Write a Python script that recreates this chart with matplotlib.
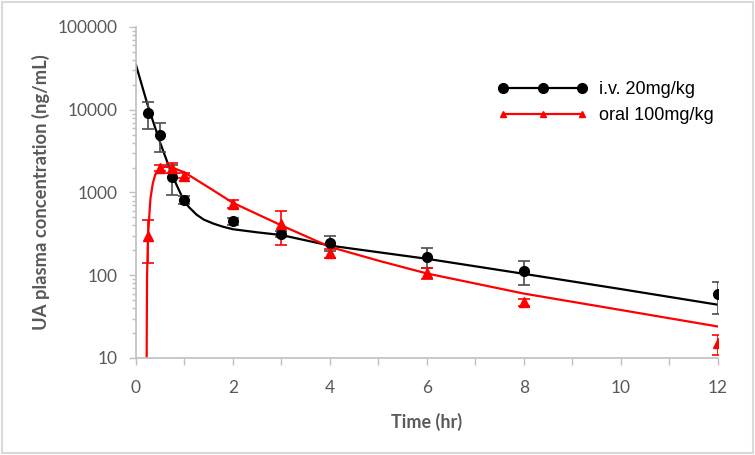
import matplotlib
matplotlib.use("Agg")
import matplotlib.pyplot as plt
from matplotlib.patches import Rectangle
from matplotlib.ticker import FixedLocator, LogLocator, NullFormatter, FuncFormatter

# measured data
time_pts = [0.25, 0.5, 0.75, 1, 2, 3, 4, 6, 8, 12]
iv_mean = [9100, 4950, 1540, 810, 450, 316, 245, 166, 112, 59]
iv_err = [3300, 1900, 600, 90, 40, 30, 50, 45, 35, 25]
oral_mean = [300, 1980, 2000, 1600, 730, 415, 185, 106, 47, 15]
oral_err = [160, 150, 300, 120, 80, 180, 25, 15, 5, 4]

# fitted curves
iv_fit_t = [0, 0.25, 0.5, 0.75, 1, 1.1, 1.25, 1.4, 1.6, 1.8, 2, 2.5, 3, 4, 6, 8, 10, 12]
iv_fit_c = [35000, 11000, 4000, 1600, 770, 660, 540, 470, 420, 385, 360, 330, 306, 228, 158, 104, 68, 44]
oral_fit_t = [0.22, 0.225, 0.23, 0.25, 0.3, 0.35, 0.4, 0.5, 0.6, 0.75, 1, 1.5, 2, 3, 4, 5, 6, 8, 10, 12]
oral_fit_c = [5, 30, 100, 300, 850, 1300, 1650, 1950, 2050, 2000, 1750, 1150, 750, 400, 220, 150, 105, 60, 38, 24]

x_labels = [0, 2, 4, 6, 8, 10, 12]
y_labels = [10, 100, 1000, 10000, 100000]

grey = "#595959"
axis_grey = "#bfbfbf"

fig = plt.figure(figsize=(7.55, 4.55), dpi=100)
fig.patches.append(Rectangle((0.002, 0.004), 0.996, 0.992, transform=fig.transFigure,
                             fill=False, edgecolor="#d9d9d9", linewidth=1.5))
ax = fig.add_axes([0.180, 0.2132, 0.771, 0.7275])
ax.set_yscale("log")
ax.set_xlim(0, 12)
ax.set_ylim(10, 100000)

ax.plot(iv_fit_t, iv_fit_c, color="black", lw=1.6, zorder=2)
ax.plot(oral_fit_t, oral_fit_c, color="#ff0000", lw=1.6, zorder=2)

ax.errorbar(time_pts, iv_mean, yerr=iv_err, fmt="none", ecolor="#4d4d4d",
            elinewidth=1.2, capsize=4, capthick=1.2, zorder=3)
ax.errorbar(time_pts, oral_mean, yerr=oral_err, fmt="none", ecolor="#ff0000",
            elinewidth=1.2, capsize=4, capthick=1.2, zorder=3)
ax.plot(time_pts, iv_mean, "o", color="black", ms=7, zorder=4)
ax.plot(time_pts, oral_mean, "^", color="#ff0000", ms=7, zorder=4)

# legend handles
ax.plot([], [], "-o", color="black", lw=1.6, ms=7, label="i.v. 20mg/kg")
ax.plot([], [], "-^", color="#ff0000", lw=1.6, ms=5, label="oral 100mg/kg")
leg = ax.legend(loc="upper right", bbox_to_anchor=(1.02, 0.885), numpoints=3, frameon=False,
                prop={"family": "Liberation Sans", "size": 13}, handlelength=5.0,
                handletextpad=0.6, labelspacing=0.5)

for s in ["top", "right"]:
    ax.spines[s].set_visible(False)
for s in ["left", "bottom"]:
    ax.spines[s].set_color(axis_grey)
    ax.spines[s].set_linewidth(1.2)

ax.xaxis.set_major_locator(FixedLocator(x_labels))
ax.xaxis.set_minor_locator(FixedLocator(range(0, 13)))
ax.yaxis.set_major_locator(FixedLocator(y_labels))
ax.yaxis.set_minor_locator(LogLocator(base=10, subs=range(2, 10)))
ax.yaxis.set_minor_formatter(NullFormatter())
ax.yaxis.set_major_formatter(FuncFormatter(lambda v, p: f"{int(round(v))}"))
ax.tick_params(axis="both", which="both", direction="out", color=axis_grey, width=1)
ax.tick_params(axis="x", which="major", length=5, pad=11, labelsize=12.5, labelcolor=grey)
ax.tick_params(axis="x", which="minor", length=5)
ax.tick_params(axis="y", which="major", length=5, pad=8, labelsize=12.5, labelcolor=grey)
ax.tick_params(axis="y", which="minor", length=3)
for lab in ax.get_xticklabels() + ax.get_yticklabels():
    lab.set_family("Lato")

ax.set_xlabel("Time (hr)", family="Lato", fontweight="bold", fontsize=13, color=grey, labelpad=12)
ax.set_ylabel("UA plasma concentration (ng/mL)", family="Lato", fontweight="bold",
              fontsize=13.2, color=grey, labelpad=6)

fig.savefig("out.png", dpi=100)
